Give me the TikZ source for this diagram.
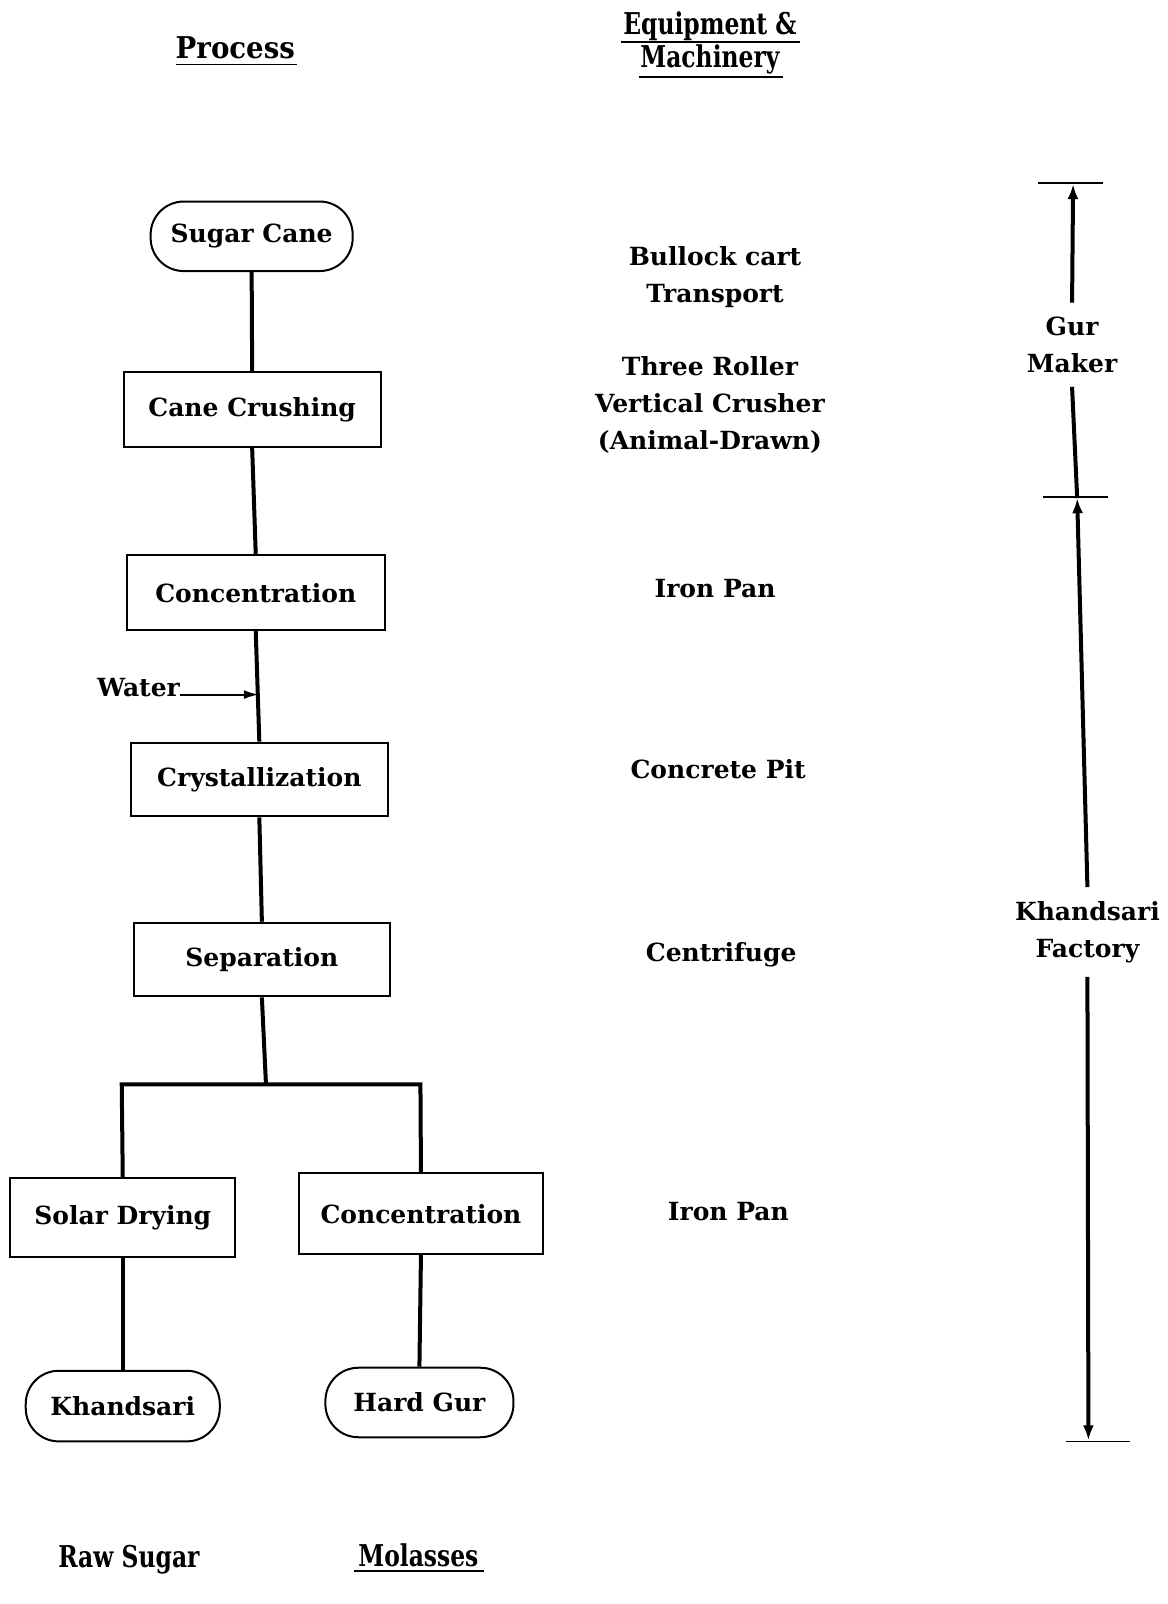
\documentclass[tikz,border=0pt]{standalone}
\usepackage{fontspec}
\setmainfont{DejaVu Serif}
\newfontfamily\headfont{DejaVu Serif}[FakeStretch=0.78]
\newfontfamily\headwide{DejaVu Serif}[FakeStretch=0.92]
\usetikzlibrary{arrows.meta}
\tikzset{
  box/.style={draw, line width=2pt, inner sep=0pt, font=\bodyfont},
  pill/.style={draw, line width=2pt, inner sep=0pt, rounded corners=33pt, font=\bodyfont},
  conn/.style={line width=4pt},
  tick/.style={line width=1.6pt},
  arr/.style={line width=4pt, -{Latex[length=15pt,width=11pt]}},
  warr/.style={line width=2pt, -{Latex[length=15pt,width=9pt]}},
  lbl/.style={font=\bodyfont, align=center, inner sep=0pt},
  head/.style={font=\headtext, inner sep=0pt},
  uline/.style={line width=1.8pt}
}
\newcommand{\bodyfont}{\fontsize{25}{36.8}\selectfont\bfseries}
\newcommand{\headtext}{\fontsize{30}{32}\selectfont\headfont\bfseries}
\begin{document}
\begin{tikzpicture}[x=1.0228pt, y=-1.0228pt]
\useasboundingbox (0,0) rectangle (1141,1568);
% headings
\node[head, font=\fontsize{30}{32}\selectfont\headwide\bfseries] (hproc) at (230,47) {Process};
\draw[uline] (172,63) -- (290,63);
\node[head] (heq1) at (694,26) {Equipment \&};
\draw[uline] (607,41) -- (782,41);
\node[head] (heq2) at (694,58) {Machinery};
\draw[uline] (625,75) -- (765,75);

% process chain
\node[pill, minimum width=202pt, minimum height=69.5pt] (cane) at (246,231) {Sugar Cane};
\node[box, minimum width=257pt, minimum height=74.7pt] (crush) at (246.5,400.5) {Cane Crushing};
\node[box, minimum width=258pt, minimum height=74.7pt] (conc) at (250,579.5) {Concentration};
\node[box, minimum width=257pt, minimum height=73.6pt] (cryst) at (253.5,762) {Crystallization};
\node[box, minimum width=256pt, minimum height=73.6pt] (sep) at (256,938) {Separation};
\node[box, minimum width=225pt, minimum height=78.8pt] (solar) at (120,1190.5) {Solar Drying};
\node[box, minimum width=244.5pt, minimum height=80.8pt] (conc2) at (411.5,1186.5) {Concentration};
\node[pill, minimum width=194pt, minimum height=70.6pt] (khand) at (120,1374.5) {Khandsari};
\node[pill, minimum width=188pt, minimum height=69.5pt] (hard) at (410,1371) {Hard Gur};

\draw[conn] (cane.south) -- (crush.north);
\draw[conn] (crush.south) -- (conc.north);
\draw[conn] (conc.south) -- (cryst.north);
\draw[conn] (cryst.south) -- (sep.north);
\coordinate (bm) at (260,1060);
\coordinate (bl) at (119,1060);
\coordinate (br) at (411,1060);
\draw[conn] (sep.south) -- (bm);
\draw[conn, line join=miter] (solar.north) -- (bl) -- (br) -- (conc2.north);
\draw[conn] (solar.south) -- (khand.north);
\draw[conn] (conc2.south) -- (hard.north);

% water
\node[lbl, anchor=east] (water) at (176,672) {Water};
\coordinate (wtr) at (253,679);
\draw[warr] (water.east |- wtr) -- (wtr);

% equipment column
\node[lbl] (bull) at (699,271) {Bullock cart\\Transport};
\node[lbl] (three) at (694,396) {Three Roller\\Vertical Crusher\\(Animal-Drawn)};
\node[lbl] (iron1) at (699,575) {Iron Pan};
\node[lbl] (pit) at (702,752) {Concrete Pit};
\node[lbl] (cent) at (705,933) {Centrifuge};
\node[lbl] (iron2) at (712,1184) {Iron Pan};

% right scale
\coordinate (gtop) at (1049,180);
\draw[tick] (1015,179) -- (1078,179);
\node[lbl, inner ysep=14pt] (gur) at (1048,337) {Gur\\Maker};
\coordinate (gmid) at (1053,487);
\draw[tick] (1020,486) -- (1083,486);
\draw[arr] (gur.north) -- (gtop);
\draw[conn] (gur.south) -- (gmid);
\node[lbl, inner ysep=14pt] (kf) at (1063,911) {Khandsari\\Factory};
\coordinate (kbot) at (1064,1408);
\draw[tick] (1042,1409) -- (1105,1409);
\draw[arr] (kf.north) -- (gmid);
\draw[arr] (kf.south) -- (kbot);

% bottom products
\node[head] (raw) at (126,1525) {Raw Sugar};
\node[head] (mol) at (409,1520) {Molasses};
\draw[uline] (346,1536) -- (473,1536);
\end{tikzpicture}
\end{document}
